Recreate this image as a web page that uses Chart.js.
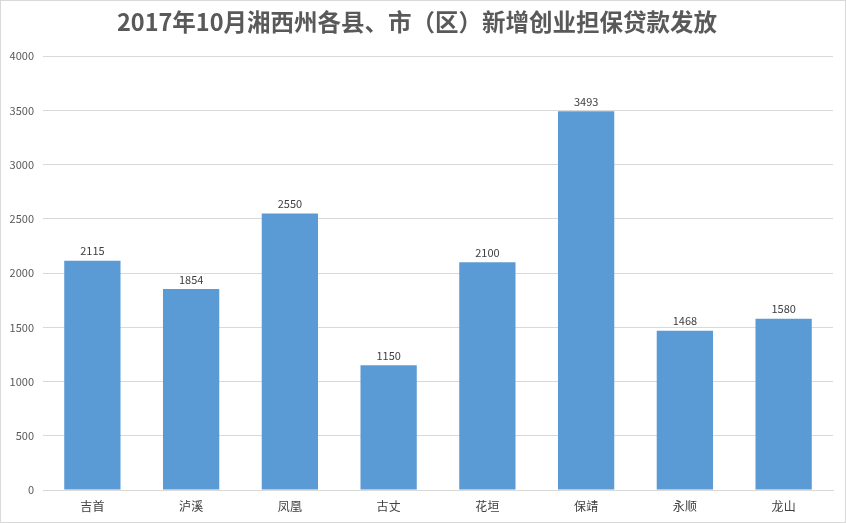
<!DOCTYPE html>
<html>
<head>
<meta charset="utf-8">
<script src="https://cdn.jsdelivr.net/npm/chart.js@4/dist/chart.umd.min.js"></script>
<style>
  html, body { margin: 0; padding: 0; background: #fff; }
  #wrap { width: 846px; height: 523px; box-sizing: border-box; border: 1px solid #d9d9d9; position: relative; }
  canvas { display: block; }
</style>
</head>
<body>
<div id="wrap"><canvas id="c" width="844" height="521"></canvas></div>
<script>
// ── data ──────────────────────────────────────────────────────────────
const titleText  = '2017年10月湘西州各县、市（区）新增创业担保贷款发放';
const counties   = ['吉首', '泸溪', '凤凰', '古丈', '花垣', '保靖', '永顺', '龙山'];
const loanCounts = [2115, 1854, 2550, 1150, 2100, 3493, 1468, 1580];
const yTicks     = [0, 500, 1000, 1500, 2000, 2500, 3000, 3500, 4000];

const FONT = '"Noto Sans CJK SC", "Noto Sans", sans-serif';

// value labels above each bar
const barLabels = {
  id: 'barLabels',
  afterDatasetsDraw(chart) {
    const ctx = chart.ctx;
    const meta = chart.getDatasetMeta(0);
    ctx.save();
    ctx.font = '11px ' + FONT;
    ctx.fillStyle = '#404040';
    ctx.textAlign = 'center';
    ctx.textBaseline = 'bottom';
    meta.data.forEach((bar, i) => {
      ctx.fillText(String(loanCounts[i]), bar.x, bar.y - 4);
    });
    ctx.restore();
  }
};

new Chart(document.getElementById('c'), {
  type: 'bar',
  data: {
    labels: counties,
    datasets: [{
      data: loanCounts,
      backgroundColor: '#5b9bd5',
      borderWidth: 0,
      barPercentage: 0.57,
      categoryPercentage: 1
    }]
  },
  options: {
    responsive: false,
    animation: false,
    layout: { padding: { top: 0, right: 12, bottom: 0, left: 0 } },
    plugins: {
      legend: { display: false },
      tooltip: { enabled: false },
      title: {
        display: true,
        text: titleText,
        color: '#595959',
        font: { family: FONT, size: 23.5, weight: 'bold' },
        padding: { top: 7, bottom: 20 }
      }
    },
    scales: {
      x: {
        grid: { display: false, drawTicks: false },
        border: { color: '#d9d9d9', width: 1 },
        ticks: { color: '#404040', font: { family: FONT, size: 12 }, padding: 9 },
        afterFit(scale) { scale.height = 32; }
      },
      y: {
        min: 0, max: 4000,
        afterBuildTicks(scale) { scale.ticks = yTicks.map(v => ({ value: v })); },
        grid: { color: '#d9d9d9', drawTicks: false },
        border: { display: false },
        ticks: { color: '#595959', font: { family: FONT, size: 11 }, padding: 9, callback: v => String(v) },
        afterFit(scale) { scale.width = 42; }
      }
    }
  },
  plugins: [barLabels]
});
</script>
</body>
</html>
